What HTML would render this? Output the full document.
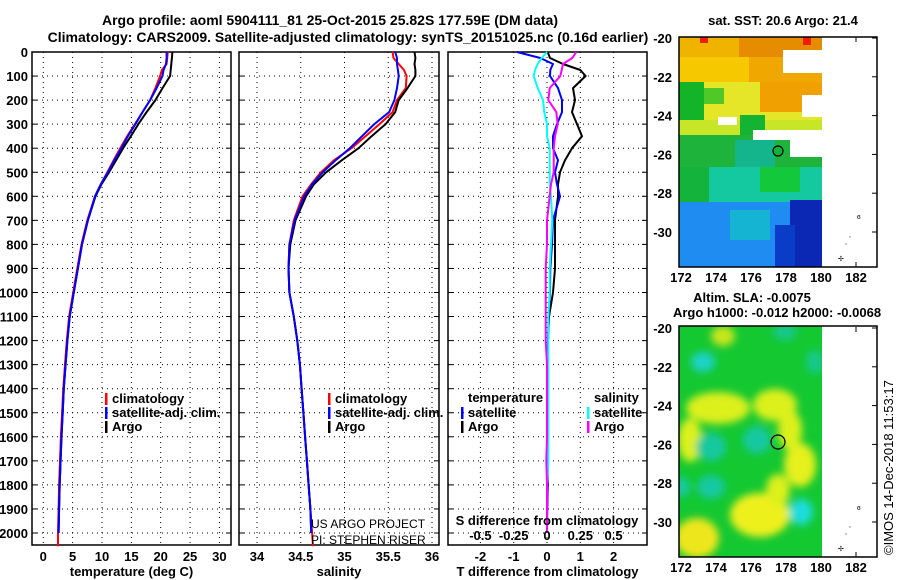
<!DOCTYPE html>
<html><head><meta charset="utf-8"><style>
body{margin:0;background:#fff;}
svg{display:block;font-family:"Liberation Sans",sans-serif;}
.t{font-weight:bold;font-size:13px;fill:#000;}
</style></head><body>
<svg id="c" width="900" height="580" viewBox="0 0 900 580">
<defs>
<filter id="bl" x="-50%" y="-50%" width="200%" height="200%"><feGaussianBlur stdDeviation="4"/></filter>
<clipPath id="m1"><rect x="679" y="37" width="143" height="230"/></clipPath>
<clipPath id="m2"><rect x="679" y="326" width="143" height="231"/></clipPath>
</defs>
<text x="330" y="25" text-anchor="middle" font-size="14" font-weight="bold">Argo profile: aoml 5904111_81 25-Oct-2015 25.82S 177.59E (DM data)</text>
<text x="348" y="42" text-anchor="middle" font-size="14" font-weight="bold">Climatology: CARS2009. Satellite-adjusted climatology: synTS_20151025.nc (0.16d earlier)</text>
<g id="plots"></g>
<g>
<text x="783" y="25" text-anchor="middle" font-size="13" font-weight="bold">sat. SST: 20.6 Argo: 21.4</text>
<g clip-path="url(#m1)">
<rect x="679" y="37" width="143" height="230" fill="#1e8cf0"/>
<rect x="679" y="37" width="143" height="20" fill="#e68c00"/>
<rect x="679" y="37" width="60" height="20" fill="#f0b400"/>
<rect x="700" y="37" width="8" height="6" fill="#f01e00"/>
<rect x="803" y="37" width="8" height="8" fill="#f01e00"/>
<rect x="679" y="57" width="143" height="25" fill="#f0a800"/>
<rect x="679" y="57" width="70" height="25" fill="#f5c800"/>
<rect x="679" y="82" width="143" height="40" fill="#e6e628"/>
<rect x="760" y="82" width="62" height="30" fill="#f0a000"/>
<rect x="679" y="82" width="25" height="40" fill="#14b428"/>
<rect x="704" y="88" width="20" height="16" fill="#50c828"/>
<rect x="679" y="120" width="143" height="15" fill="#c8e628"/>
<rect x="740" y="115" width="25" height="20" fill="#14b432"/>
<rect x="679" y="135" width="143" height="32" fill="#1eb43c"/>
<rect x="735" y="140" width="40" height="27" fill="#14b48c"/>
<rect x="679" y="167" width="143" height="35" fill="#14c8a0"/>
<rect x="679" y="167" width="30" height="35" fill="#14b43c"/>
<rect x="760" y="167" width="40" height="25" fill="#14c83c"/>
<rect x="679" y="202" width="143" height="65" fill="#1e8cf0"/>
<rect x="730" y="210" width="40" height="30" fill="#14b4d2"/>
<rect x="790" y="200" width="32" height="67" fill="#0a28b4"/>
<rect x="775" y="225" width="20" height="42" fill="#0a3cc8"/>
<rect x="783" y="50" width="39" height="23" fill="#fff"/>
<rect x="802" y="95" width="20" height="22" fill="#fff"/>
<rect x="718" y="117" width="19" height="8" fill="#fff"/>
<rect x="753" y="130" width="24" height="10" fill="#fff"/>
<rect x="777" y="130" width="45" height="10" fill="#fff"/>
<rect x="790" y="140" width="32" height="17" fill="#fff"/>
</g>
<rect x="679" y="37" width="198" height="230" fill="none" stroke="#000" stroke-width="1.5"/>
<circle cx="778" cy="151" r="5" fill="#14b432" stroke="#000" stroke-width="1.2"/>
<text x="857" y="219" font-size="7">ɞ</text><text x="849" y="237" font-size="7">,</text><text x="845" y="244" font-size="7">,</text><text x="838" y="261" font-size="7">✢</text>
</g>
<g>
<text x="752" y="302" text-anchor="middle" font-size="13" font-weight="bold">Altim. SLA: -0.0075</text>
<text x="777" y="317" text-anchor="middle" font-size="13" font-weight="bold">Argo h1000: -0.012 h2000: -0.0068</text>
<g clip-path="url(#m2)">
<rect x="679" y="326" width="143" height="231" fill="#14c832"/>
<g filter="url(#bl)">
<ellipse cx="718" cy="408" rx="32" ry="16" fill="#dcf01e"/>
<ellipse cx="690" cy="440" rx="12" ry="22" fill="#dcf01e"/>
<ellipse cx="775" cy="405" rx="22" ry="16" fill="#dcf01e"/>
<ellipse cx="790" cy="430" rx="12" ry="20" fill="#dcf01e"/>
<ellipse cx="800" cy="465" rx="16" ry="22" fill="#e6f01e"/>
<ellipse cx="760" cy="515" rx="30" ry="22" fill="#eef01e"/>
<ellipse cx="778" cy="490" rx="12" ry="16" fill="#dcf01e"/>
<ellipse cx="697" cy="538" rx="22" ry="20" fill="#eee61e"/>
<ellipse cx="723" cy="336" rx="12" ry="10" fill="#c8e61e"/>
<ellipse cx="703" cy="362" rx="12" ry="10" fill="#1ed2c8"/>
<ellipse cx="711" cy="447" rx="15" ry="14" fill="#14c8a0"/>
<ellipse cx="757" cy="440" rx="14" ry="14" fill="#14c8a0"/>
<ellipse cx="711" cy="487" rx="14" ry="12" fill="#14c8a0"/>
<ellipse cx="682" cy="487" rx="8" ry="10" fill="#14c8a0"/>
<ellipse cx="801" cy="512" rx="12" ry="13" fill="#1edcdc"/>
<ellipse cx="785" cy="332" rx="12" ry="8" fill="#14c88c"/>
<ellipse cx="815" cy="362" rx="9" ry="12" fill="#14c88c"/>
</g>
</g>
<rect x="679" y="326" width="198" height="231" fill="none" stroke="#000" stroke-width="1.5"/>
<circle cx="778" cy="442" r="7" fill="none" stroke="#000" stroke-width="1.2"/>
<text x="857" y="510" font-size="7">ɞ</text><text x="849" y="527" font-size="7">,</text><text x="845" y="534" font-size="7">,</text><text x="838" y="551" font-size="7">✢</text>
</g>
<text transform="translate(893,555) rotate(-90)" font-size="13">©IMOS 14-Dec-2018 11:53:17</text>
</svg>
<script>
const depths=[0,25,50,75,100,150,200,250,300,350,400,450,500,550,600,700,800,900,1000,1100,1200,1300,1400,1500,1600,1700,1800,1900,2000];
const tArgo=[22.0,21.9,21.8,21.7,21.6,20.3,19.1,17.6,16.2,14.9,13.6,12.4,11.2,9.9,8.9,7.6,6.6,5.9,5.2,4.5,4.1,3.8,3.5,3.3,3.1,2.95,2.8,2.7,2.6];
const tClim=[21.2,21.1,21.0,20.2,19.9,19.1,18.2,16.9,15.6,14.3,13.1,12.0,10.9,9.8,8.8,7.5,6.5,5.8,5.1,4.4,4.0,3.7,3.4,3.2,3.0,2.85,2.7,2.6,2.5];
const tSat=[21.0,21.0,20.9,20.5,20.3,19.3,18.2,16.9,15.7,14.4,13.3,12.1,11.0,9.8,8.8,7.6,6.6,5.9,5.2,4.5,4.1,3.8,3.5,3.3,3.1,2.95,2.8,2.7,2.6];
const sArgo=[35.80,35.81,35.80,35.81,35.81,35.72,35.62,35.58,35.47,35.31,35.16,34.97,34.79,34.65,34.56,34.44,34.38,34.36,34.37,34.42,34.46,34.49,34.51,34.53,34.55,34.57,34.59,34.61,34.62];
const sClim=[35.55,35.56,35.62,35.68,35.71,35.70,35.60,35.55,35.40,35.24,35.08,34.88,34.73,34.62,34.52,34.42,34.37,34.36,34.37,34.42,34.46,34.49,34.51,34.53,34.55,34.57,34.59,34.61,34.63];
const sSat=[35.58,35.60,35.60,35.61,35.62,35.60,35.57,35.51,35.34,35.20,35.06,34.90,34.75,34.63,34.54,34.43,34.37,34.36,34.37,34.42,34.46,34.49,34.51,34.53,34.55,34.57,34.59,34.61,34.62];
const tDiffArgo=[0.02,0.09,0.48,1.0,1.16,0.78,0.84,0.75,0.9,1.05,0.75,0.54,0.39,0.33,0.33,0.24,0.24,0.24,0.18,0.06,0.03,0.02,0.0,0.02,0.0,0.0,0.02,0.0,0.0];
const tDiffSat=[-0.9,-0.2,0.18,0.1,0.09,0.33,0.45,0.45,0.3,0.18,0.18,0.33,0.24,0.3,0.39,0.18,0.15,0.1,0.09,0.05,0.03,0.03,0.03,0.03,0.02,0.02,0.02,0.01,0.0];
const sDiffSat=[0,-0.04,-0.07,-0.09,-0.1,-0.07,-0.03,-0.02,0,0,0.02,0.02,0.02,0.02,0.03,0.04,0.03,0.02,0.02,0.01,0.01,0.01,0.01,0.01,0.01,0.01,0.0,0.0,0.0];
const sDiffArgo=[0.22,0.19,0.12,0.11,0.1,0.02,0.01,0.07,0.08,0.06,0.05,0.05,0.05,0.03,0.02,0,0,-0.01,-0.01,-0.01,-0.01,0,0,0,0,-0.005,0,0,0];
const depthTicks=[0,100,200,300,400,500,600,700,800,900,1000,1100,1200,1300,1400,1500,1600,1700,1800,1900,2000];
const tempTicks=[0,5,10,15,20,25,30];
const salTicks=[34,34.5,35,35.5,36];
const tDiffTicks=[-2,-1,0,1,2];
const sDiffTicks=[-0.5,-0.25,0,0.25,0.5];
const sDiffLabels=["-0.5","-0.25","0","0.25","0.5"];

const NS="http://www.w3.org/2000/svg";
const root=document.getElementById('plots');
const yD=d=>52+d*0.2405;
const xT=v=>43.3+v*5.87;
const xS=v=>257+(v-34)*87.5;
const xTd=v=>547+v*33.3;
const xSd=v=>547+v*133.2;
const TOP=52,BOT=545;
function mk(tag,attrs,parent){const e=document.createElementNS(NS,tag);for(const k in attrs)e.setAttribute(k,attrs[k]);(parent||root).appendChild(e);return e;}
function txt(x,y,s,anchor,parent){const e=mk('text',{x:x,y:y,'text-anchor':anchor||'middle',class:'t'},parent);e.textContent=s;return e;}

function panel(name,x0,x1,xs,ticks,labels,xlabel){
  const g=mk('g',{});
  
  
  depthTicks.forEach(d=>{mk('line',{x1:x0,x2:x1,y1:yD(d),y2:yD(d),stroke:'#000','stroke-width':1,'stroke-dasharray':'1 4'},g);
    mk('line',{x1:x0,x2:x0+5,y1:yD(d),y2:yD(d),stroke:'#000'},g);mk('line',{x1:x1-5,x2:x1,y1:yD(d),y2:yD(d),stroke:'#000'},g);});
  ticks.forEach((t,i)=>{const x=xs(t);mk('line',{x1:x,x2:x,y1:TOP,y2:BOT,stroke:'#000','stroke-dasharray':'1 4'},g);
    if(labels){const l=txt(x,561,labels[i],'middle',g);}});
  mk('rect',{x:x0,y:TOP,width:x1-x0,height:BOT-TOP,fill:'none',stroke:'#000','stroke-width':1.5},g);
  const xl=txt((x0+x1)/2,576,xlabel,'middle',g);
  
  
  return g;
}
function series(g,vals,xs,color,name,extra){
  let pts=vals.map((v,i)=>xs(v).toFixed(1)+','+yD(depths[i]).toFixed(1));
  if(extra)pts.push(xs(extra[0]).toFixed(1)+','+yD(extra[1]).toFixed(1));
  const p=mk('polyline',{points:pts.join(' '),fill:'none',stroke:color,'stroke-width':2,'stroke-linejoin':'round'},g);
  
  
}
function legend(g,x,y,items){
  items.forEach((it,i)=>{mk('rect',{x:x,y:y+i*14-10,width:2.5,height:12,fill:it[1]},g);
    const t=txt(x+7,y+i*14,it[0],'start',g);
    
    });
}
depthTicks.forEach(d=>{const t=txt(28,yD(d)+5,String(d),'end');
  
  });

const g1=panel('temperature',32,231,xT,tempTicks,tempTicks.map(String),'temperature (deg C)');
series(g1,tClim,xT,'#f00','temp-climatology-line',[2.5,2055]);
series(g1,tArgo,xT,'#000','temp-argo-line');
series(g1,tSat,xT,'#00f','temp-satellite-line');
legend(g1,105,403,[['climatology','#f00'],['satellite-adj. clim.','#00f'],['Argo','#000']]);

const g2=panel('salinity',239,439,xS,salTicks,['34','34.5','35','35.5','36'],'salinity');
series(g2,sClim,xS,'#f00','sal-climatology-line',[34.64,2055]);
series(g2,sArgo,xS,'#000','sal-argo-line');
series(g2,sSat,xS,'#00f','sal-satellite-line');
legend(g2,328,403,[['climatology','#f00'],['satellite-adj. clim.','#00f'],['Argo','#000']]);
const a1=txt(311,528,'US ARGO PROJECT','start',g2);a1.setAttribute('style','font-weight:normal;font-size:12px');


const a2=txt(311,544,'PI: STEPHEN RISER','start',g2);a2.setAttribute('style','font-weight:normal;font-size:12px');



const g3=panel('difference',448,647,xTd,tDiffTicks,tDiffTicks.map(String),'T difference from climatology');
series(g3,tDiffArgo,xTd,'#000','tdiff-argo-line');
series(g3,tDiffSat,xTd,'#00f','tdiff-satellite-line');
series(g3,sDiffSat,xSd,'#0ff','sdiff-satellite-line');
series(g3,sDiffArgo,xSd,'#f0f','sdiff-argo-line');
const lt=txt(468,402,'temperature','start',g3);
legend(g3,461,417,[['satellite','#00f'],['Argo','#000']]);
const ls=txt(594,402,'salinity','start',g3);
legend(g3,587,417,[['satellite','#0ff'],['Argo','#f0f']]);
const sdt=txt(547,525,'S difference from climatology','middle',g3);


sDiffTicks.forEach((v,i)=>{const t=txt(xSd(v),540,sDiffLabels[i],'middle',g3);
  
  });

function mapAxes(top,lat20y,name){
  const g=mk('g',{});
  
  
  [-20,-22,-24,-26,-28,-30].forEach(l=>{const y=lat20y+(-20-l)*19.4;
    mk('line',{x1:679,x2:684,y1:y,y2:y,stroke:'#000'},g);mk('line',{x1:872,x2:877,y1:y,y2:y,stroke:'#000'},g);
    txt(672,y+5,String(l),'end',g);});
  const bottom=top+230;
  [172,174,176,178,180,182].forEach(lo=>{const x=681+(lo-172)*17.5;
    mk('line',{x1:x,x2:x,y1:bottom-5,y2:bottom,stroke:'#000'},g);mk('line',{x1:x,x2:x,y1:top,y2:top+5,stroke:'#000'},g);
    txt(x,bottom+15,String(lo),'middle',g);});
}
mapAxes(37,38,'sst-map');
mapAxes(327,328,'sla-map');
</script>
</body></html>
